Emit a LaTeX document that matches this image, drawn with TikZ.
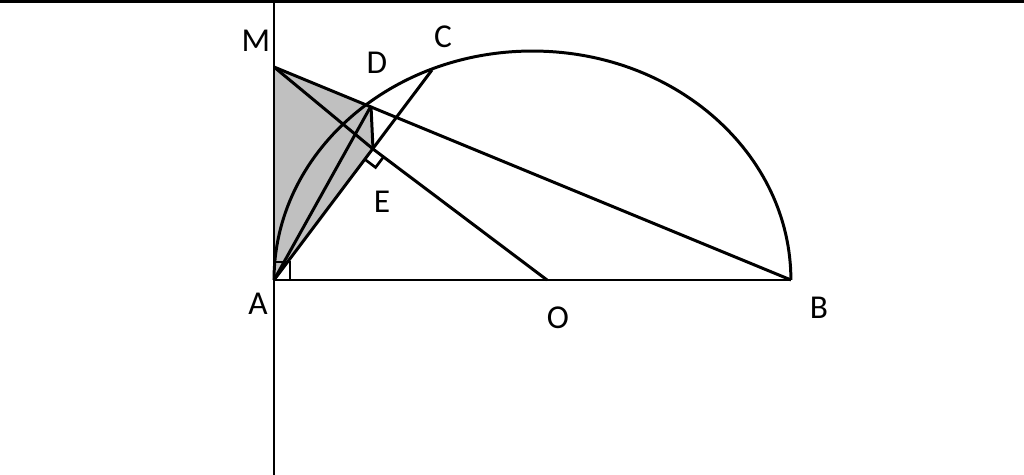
\documentclass[tikz,border=0pt]{standalone}
\usepackage{fontspec}
\setmainfont{Carlito}
\usetikzlibrary{calc}
\begin{document}
\begin{tikzpicture}[x=0.02cm,y=-0.02cm,line width=1.7pt,
  lbl/.style={font=\fontsize{19}{22}\selectfont,inner sep=0pt},
  shadefill/.style={fill={rgb,255:red,192;green,192;blue,192}}]
\useasboundingbox (0,0) rectangle (1024,475);
% points
\coordinate (A) at (274,280);
\coordinate (B) at (791,280);
\coordinate (O) at (547,280);
\coordinate (M) at (274,67);
\coordinate (C) at (432,70);
\coordinate (D) at (371,106);
\coordinate (E) at (373,149);
\coordinate (TL) at (0,1.3);
\coordinate (TR) at (1024,1.3);
\coordinate (VT) at (274,0);
\coordinate (VB) at (274,475);
% shaded region
\fill[shadefill] (M) -- (D) -- (E) -- (A) -- cycle;
% frame lines
\draw (TL) -- (TR);
\draw (VT) -- (VB);
% figure
\draw (A) -- (B);
\draw (A) arc[start angle=180,end angle=0,x radius=5.17cm,y radius=4.58cm];
\draw (M) -- (B);
\draw (M) -- (E) -- (O);
\draw (A) -- (C);
\draw (A) -- (D);
\draw (D) -- (E);
% right-angle marks
\coordinate (RA1) at (274,262);
\coordinate (RA2) at (290,262);
\coordinate (RA3) at (290,280);
\draw[line width=1.5pt] (RA1) -- (RA2) -- (RA3);
\coordinate (P1) at ($(E)!7.5pt!(O)$);
\coordinate (P2) at ($(E)!7.5pt!(A)$);
\coordinate (P3) at ($(P1)+(P2)-(E)$);
\draw[line width=1.5pt] (P1) -- (P3) -- (P2);
% labels
\node[lbl] (lM) at (256,41) {M};
\node[lbl] (lD) at (377,63) {D};
\node[lbl] (lC) at (443,37) {C};
\node[lbl] (lE) at (382,202) {E};
\node[lbl] (lA) at (258,304) {A};
\node[lbl] (lO) at (558,318) {O};
\node[lbl] (lB) at (819,308) {B};
\end{tikzpicture}
\end{document}
